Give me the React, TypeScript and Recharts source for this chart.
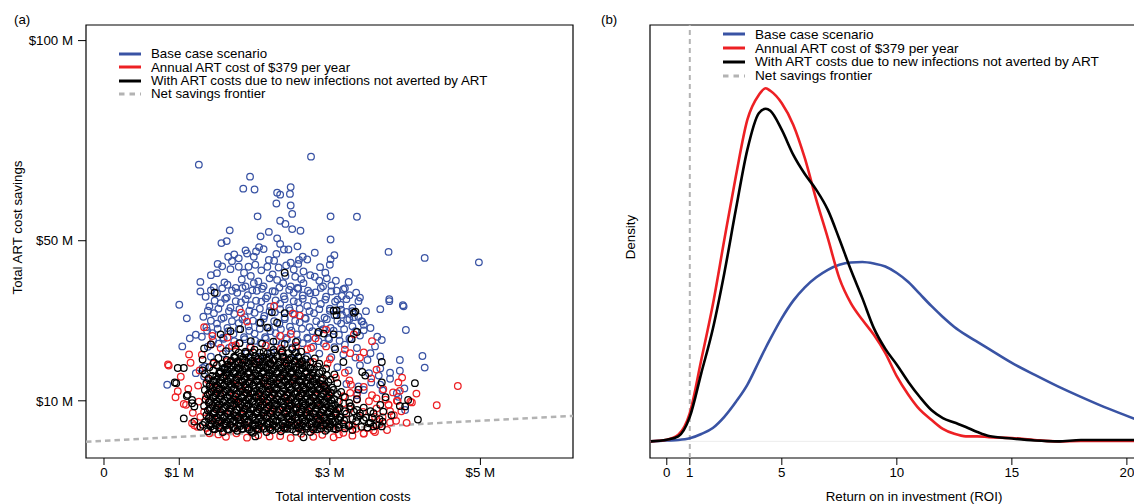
import {
  ScatterChart,
  Scatter,
  LineChart,
  Line,
  XAxis,
  YAxis,
  ReferenceLine,
  ReferenceArea,
  Legend,
} from 'recharts'

const FONT = '"Liberation Sans", Arial, Helvetica, sans-serif'
const BLUE = '#3953a4'
const RED = '#ed2024'
const BLACK = '#000000'
const GRAY = '#b3b3b3'

// panel (a): [total intervention costs ($M), total ART cost savings ($M)]
const BASE_CASE: [number, number][] = [
  [1.26, 69.0], [2.75, 71.0], [1.94, 66.0], [1.85, 63.0], [2.0, 62.8], [2.3, 62.0], [2.34, 61.5], [2.48, 63.4],
  [2.47, 61.7], [2.29, 59.3], [2.48, 58.8], [2.5, 56.7], [2.04, 56.1], [2.34, 55.0], [2.41, 54.2], [2.5, 52.9],
  [2.61, 52.5], [3.01, 56.1], [1.67, 52.6], [2.19, 52.2], [2.08, 51.1], [2.3, 50.6], [3.01, 50.3], [1.56, 49.4],
  [1.63, 49.9], [2.06, 48.4], [1.88, 47.6], [2.02, 47.3], [2.39, 47.8], [2.45, 47.8], [1.65, 46.0], [1.73, 46.6],
  [1.79, 45.6], [2.19, 45.2], [2.64, 46.0], [2.59, 45.2], [3.06, 46.4], [3.01, 45.4], [1.51, 44.2], [1.9, 46.8],
  [1.99, 46.0], [2.29, 46.7], [2.48, 44.5], [1.42, 41.4], [1.5, 41.9], [1.68, 42.9], [1.79, 43.5], [1.92, 43.5],
  [2.01, 44.0], [2.17, 43.5], [2.32, 43.3], [2.54, 41.0], [2.65, 42.3], [2.74, 41.4], [2.8, 41.0], [2.94, 42.0],
  [1.28, 39.7], [1.28, 37.3], [1.64, 39.0], [1.75, 38.2], [1.88, 38.6], [1.99, 39.4], [2.12, 38.6], [2.3, 40.2],
  [2.38, 39.4], [2.48, 38.6], [2.57, 38.2], [2.65, 39.4], [2.74, 36.9], [2.91, 38.6], [3.08, 40.0], [3.16, 36.2],
  [3.25, 39.7], [3.36, 56.0], [3.78, 47.2], [4.26, 45.7], [4.98, 44.6], [3.09, 37.5], [3.35, 37.0], [3.4, 35.8],
  [3.79, 35.4], [3.67, 32.9], [3.79, 34.9], [3.97, 33.9], [3.98, 33.6], [4.01, 27.7], [4.23, 21.2], [4.26, 18.3],
  [3.93, 20.2], [3.93, 17.5], [3.8, 17.0], [3.65, 16.3], [3.67, 18.1], [3.89, 11.9], [3.91, 11.0], [3.16, 31.5],
  [3.23, 30.2], [3.32, 30.9], [3.43, 29.8], [3.45, 29.0], [3.54, 28.2], [3.63, 26.0], [3.69, 25.2], [3.6, 23.6],
  [3.54, 21.9], [3.67, 21.1], [1.0, 34.0], [1.1, 30.6], [1.04, 23.6], [1.14, 25.6], [1.22, 26.5], [0.84, 14.0],
  [1.31, 18.2], [1.22, 16.9], [1.33, 16.1], [3.99, 13.1], [3.36, 11.4], [3.45, 12.7], [4.0, 7.7], [3.67, 14.0],
  [1.46, 38.4], [1.6, 39.6], [1.83, 40.3], [2.05, 39.8], [2.2, 40.6], [2.41, 41.2], [2.62, 40.4], [2.86, 40.0],
  [3.02, 38.8], [3.2, 38.1], [1.35, 36.0], [1.5, 36.9], [1.63, 35.8], [1.77, 37.0], [1.91, 36.4], [2.03, 37.5],
  [2.17, 36.2], [2.27, 37.3], [2.39, 36.1], [2.52, 37.0], [2.64, 36.3], [2.81, 37.1], [2.95, 36.0], [3.1, 35.3],
  [3.26, 36.4], [1.4, 33.6], [1.55, 34.4], [1.68, 33.3], [1.82, 34.6], [1.95, 33.9], [2.09, 34.8], [2.21, 33.5],
  [2.34, 34.3], [2.46, 33.2], [2.58, 34.6], [2.7, 33.7], [2.88, 34.2], [3.0, 33.0], [3.14, 34.0], [3.3, 33.2],
  [3.48, 32.4], [1.32, 31.0], [1.46, 31.9], [1.59, 30.8], [1.73, 31.7], [1.87, 30.9], [2.0, 32.0], [2.13, 31.2],
  [2.27, 32.1], [2.4, 30.8], [2.53, 31.6], [2.67, 30.7], [2.79, 31.9], [2.93, 30.8], [3.06, 31.4], [3.22, 32.2],
  [3.38, 31.0], [1.36, 28.4], [1.5, 29.3], [1.64, 28.2], [1.79, 29.4], [1.92, 28.6], [2.06, 29.5], [2.19, 28.3],
  [2.33, 29.2], [2.47, 28.5], [2.6, 29.6], [2.73, 28.4], [2.88, 29.1], [3.01, 28.2], [3.15, 29.3], [3.3, 28.6],
  [3.45, 27.6], [1.3, 26.0], [1.44, 26.9], [1.58, 25.8], [1.72, 26.7], [1.86, 25.9], [2.0, 26.8], [2.14, 25.9],
  [2.28, 26.9], [2.42, 25.7], [2.56, 26.6], [2.7, 25.8], [2.84, 26.8], [2.98, 25.7], [3.12, 26.5], [3.26, 25.6],
  [3.4, 26.3], [1.38, 23.5], [1.52, 24.3], [1.66, 23.2], [1.8, 24.4], [1.94, 23.6], [2.08, 24.5], [2.22, 23.4],
  [2.36, 24.2], [2.5, 23.3], [2.64, 24.4], [2.78, 23.5], [2.92, 24.3], [3.06, 23.4], [3.2, 24.0], [3.36, 23.2],
  [1.42, 21.0], [1.58, 21.8], [1.74, 20.9], [1.9, 21.9], [2.06, 21.0], [2.22, 22.0], [2.38, 21.1], [2.54, 21.9],
  [2.7, 21.0], [2.86, 21.8], [3.02, 20.9], [3.18, 21.6], [3.34, 20.8], [3.5, 20.2], [1.34, 18.6], [1.6, 17.8],
  [3.1, 18.4], [3.25, 17.6], [3.4, 18.9], [3.52, 16.9], [3.22, 14.2], [3.38, 13.6], [3.55, 14.6], [3.7, 12.6],
  [3.8, 15.5],
  [1.42, 37.6], [1.57, 38.1], [1.7, 37.5], [1.84, 38.2], [1.97, 37.6], [2.1, 38.0], [2.24, 37.4], [2.33, 38.3],
  [2.46, 37.7], [2.58, 38.0], [2.71, 37.5], [2.88, 38.2], [3.02, 37.3], [3.18, 37.9], [1.47, 35.0], [1.61, 35.5],
  [1.75, 34.9], [1.88, 35.4], [2.02, 35.0], [2.15, 35.6], [2.28, 35.1], [2.4, 35.4], [2.52, 34.9], [2.64, 35.5],
  [2.79, 35.0], [2.94, 35.3], [3.07, 34.8], [3.22, 35.4], [3.38, 34.9], [1.38, 32.5], [1.52, 33.0], [1.66, 32.4],
  [1.8, 32.9], [1.93, 32.5], [2.07, 33.0], [2.2, 32.4], [2.34, 32.9], [2.47, 32.6], [2.6, 33.0], [2.73, 32.4],
  [2.86, 32.9], [3.0, 32.5], [3.15, 32.8], [3.3, 32.4], [1.42, 30.0], [1.56, 30.5], [1.7, 29.9], [1.84, 30.4],
  [1.98, 30.0], [2.12, 30.5], [2.26, 29.9], [2.4, 30.4], [2.54, 30.0], [2.68, 30.5], [2.82, 29.9], [2.96, 30.4],
  [3.1, 30.0], [3.26, 30.4], [3.42, 29.9], [1.37, 27.5], [1.51, 28.0], [1.65, 27.4], [1.79, 27.9], [1.93, 27.5],
  [2.07, 28.0], [2.21, 27.4], [2.35, 27.9], [2.49, 27.5], [2.63, 28.0], [2.77, 27.4], [2.91, 27.9], [3.05, 27.5],
  [3.19, 27.9], [3.34, 27.4], [1.45, 25.0], [1.59, 25.5], [1.73, 24.9], [1.87, 25.4], [2.01, 25.0], [2.15, 25.5],
  [2.29, 24.9], [2.43, 25.4], [2.57, 25.0], [2.71, 25.5], [2.85, 24.9], [2.99, 25.4], [3.13, 25.0], [3.28, 25.4],
  [1.7, 44.9], [1.86, 42.0], [2.09, 42.6], [2.26, 45.0], [2.42, 43.8], [2.58, 44.2], [2.7, 45.3], [2.87, 43.4],
  [3.0, 44.0], [1.95, 41.2], [2.24, 41.6], [2.52, 42.8], [2.96, 40.6], [1.57, 43.6], [2.12, 47.9], [2.34, 49.2],
  [2.57, 48.6], [2.8, 47.0],
]

const ART_379: [number, number][] = [
  [1.52, 1.6], [1.76, 1.9], [2.05, 1.4], [2.34, 1.2], [2.62, 1.8], [2.9, 1.5], [3.18, 2.0], [3.45, 1.8], [3.76, 2.7],
  [1.36, 3.2], [1.54, 3.9], [1.71, 3.3], [1.89, 3.8], [2.06, 3.1], [2.24, 3.9], [2.41, 3.4], [2.59, 3.7], [2.76, 3.2],
  [2.94, 3.9], [3.11, 3.3], [3.3, 3.8], [3.5, 3.2], [3.66, 4.1], [1.44, 5.6], [1.8, 5.3], [2.15, 5.8], [2.5, 5.2],
  [2.86, 5.7], [3.22, 5.4], [3.6, 6.0], [3.88, 5.0], [1.33, 7.2], [1.51, 7.9], [1.68, 7.3], [1.86, 7.8], [2.03, 7.1],
  [2.21, 7.7], [2.38, 7.4], [2.56, 7.9], [2.73, 7.2], [2.91, 7.8], [3.08, 7.3], [3.26, 7.9], [3.44, 7.2], [3.62, 8.1],
  [3.8, 7.4], [1.4, 9.6], [1.76, 9.3], [2.12, 9.8], [2.47, 9.2], [2.83, 9.7], [3.18, 9.4], [3.52, 9.9], [3.78, 9.0],
  [3.9, 10.0], [1.36, 11.2], [1.54, 11.9], [1.72, 11.3], [1.9, 11.8], [2.08, 11.1], [2.26, 11.7], [2.44, 11.3],
  [2.62, 11.9], [2.8, 11.2], [2.98, 11.8], [3.18, 11.1], [3.36, 11.9], [3.56, 11.4], [3.71, 12.9], [3.84, 12.1],
  [1.45, 13.4], [1.82, 13.7], [2.18, 13.2], [2.55, 13.8], [2.92, 13.3], [3.27, 12.0], [3.91, 14.6], [1.38, 15.2],
  [1.57, 15.9], [1.76, 15.3], [1.95, 15.8], [2.14, 15.1], [2.33, 15.7], [2.52, 15.3], [2.71, 15.9], [2.9, 15.2],
  [3.08, 15.8], [3.26, 15.1], [1.45, 19.3], [1.64, 19.9], [1.83, 19.2], [2.02, 19.8], [2.21, 19.4], [2.4, 19.9],
  [2.59, 19.2], [2.78, 19.7], [2.97, 19.3], [3.0, 20.4], [1.55, 23.2], [1.75, 23.9], [1.95, 23.3], [2.15, 23.8],
  [2.35, 23.1], [2.55, 23.7], [2.75, 23.2], [2.95, 23.6], [0.85, 19.1], [1.13, 21.6], [1.33, 28.4], [1.44, 26.2],
  [0.95, 10.9], [1.09, 9.0], [1.2, 3.9], [1.82, 32.0], [2.51, 31.8], [2.6, 31.3], [2.26, 33.7], [2.81, 25.6],
  [2.7, 22.9], [1.64, 25.8], [1.42, 24.1], [1.7, 23.7], [2.34, 26.2], [2.48, 26.7], [4.7, 13.7], [4.42, 8.9],
  [3.56, 24.9], [3.45, 22.1], [3.27, 21.9], [3.93, 12.5], [3.74, 10.3], [3.78, 9.0], [4.07, 9.8], [3.45, 1.9],
  [3.89, 10.0], [4.09, 9.6], [3.36, 10.3], [3.18, 11.1], [1.06, 9.2], [1.17, 4.4], [1.24, 3.5], [0.86, 18.8],
  [0.98, 12.4], [1.02, 16.0], [1.9, 29.8], [2.95, 27.8], [3.32, 26.6], [3.62, 17.8], [3.96, 15.8], [4.15, 11.8],
  [1.62, 1.0], [1.9, 0.8], [2.2, 1.1], [2.48, 0.7], [2.78, 1.0], [3.05, 0.9], [3.3, 1.3], [3.6, 2.2], [1.4, 1.9],
  [1.28, 6.0], [1.26, 9.8], [1.25, 13.8], [1.27, 17.6], [1.3, 21.5], [3.2, 17.0], [3.28, 14.0], [3.45, 13.5],
  [3.62, 10.6], [3.85, 6.4], [3.95, 7.4], [4.02, 4.5], [3.7, 5.9], [3.8, 4.6], [3.58, 2.6], [3.35, 3.0], [3.12, 1.6],
  [1.18, 7.0], [1.12, 13.0], [1.15, 19.5], [3.55, 15.6], [3.4, 20.8], [3.2, 22.8],
]

const NOT_AVERTED: [number, number][] = [
  [1.38, 2.4], [1.47, 2.9], [1.58, 2.2], [1.66, 2.8], [1.77, 2.5], [1.85, 3.0], [1.96, 2.3], [2.05, 2.9], [2.16, 2.2],
  [2.24, 2.7], [2.35, 2.4], [2.44, 3.0], [2.55, 2.3], [2.63, 2.8], [2.74, 2.2], [2.83, 2.9], [2.94, 2.5], [3.05, 3.1],
  [3.3, 2.7], [3.5, 3.3], [1.34, 4.6], [1.43, 4.2], [1.52, 4.8], [1.62, 4.3], [1.71, 4.9], [1.81, 4.4], [1.9, 4.7],
  [2.0, 4.1], [2.09, 4.8], [2.19, 4.3], [2.28, 4.9], [2.38, 4.4], [2.47, 4.7], [2.57, 4.2], [2.66, 4.8], [2.76, 4.3],
  [2.85, 4.9], [2.95, 4.4], [3.04, 4.8], [3.18, 4.2], [3.35, 4.9], [3.52, 4.4], [3.7, 4.8], [1.36, 6.4], [1.46, 6.9],
  [1.55, 6.3], [1.65, 6.8], [1.74, 6.2], [1.84, 6.7], [1.93, 6.4], [2.03, 6.9], [2.12, 6.3], [2.22, 6.8], [2.31, 6.2],
  [2.41, 6.7], [2.5, 6.4], [2.6, 6.9], [2.69, 6.2], [2.79, 6.8], [2.88, 6.3], [2.98, 6.9], [3.08, 6.4], [3.22, 6.8],
  [3.4, 6.3], [3.58, 6.9], [3.82, 6.4], [1.33, 8.7], [1.42, 8.2], [1.51, 8.8], [1.61, 8.3], [1.7, 8.9], [1.8, 8.4],
  [1.89, 8.7], [1.99, 8.2], [2.08, 8.8], [2.18, 8.3], [2.27, 8.9], [2.37, 8.4], [2.46, 8.7], [2.56, 8.2], [2.65, 8.8],
  [2.75, 8.3], [2.84, 8.9], [2.94, 8.4], [3.03, 8.7], [3.13, 8.2], [3.28, 8.6], [3.45, 8.3], [1.35, 10.4], [1.45, 10.9],
  [1.54, 10.3], [1.64, 10.8], [1.73, 10.2], [1.83, 10.7], [1.92, 10.4], [2.02, 10.9], [2.11, 10.3], [2.21, 10.8],
  [2.3, 10.2], [2.4, 10.7], [2.49, 10.4], [2.59, 10.9], [2.68, 10.3], [2.78, 10.8], [2.87, 10.2], [2.97, 10.7],
  [3.06, 10.4], [3.2, 10.9], [3.36, 10.4], [1.34, 12.7], [1.43, 12.2], [1.53, 12.8], [1.62, 12.3], [1.72, 12.9],
  [1.81, 12.4], [1.91, 12.7], [2.0, 12.2], [2.1, 12.8], [2.19, 12.3], [2.29, 12.9], [2.38, 12.4], [2.48, 12.7],
  [2.57, 12.2], [2.67, 12.8], [2.76, 12.3], [2.86, 12.9], [2.95, 12.4], [3.05, 12.7], [3.15, 12.2], [1.36, 14.4],
  [1.46, 14.9], [1.55, 14.3], [1.65, 14.8], [1.74, 14.2], [1.84, 14.7], [1.93, 14.4], [2.03, 14.9], [2.12, 14.3],
  [2.22, 14.8], [2.31, 14.2], [2.41, 14.7], [2.5, 14.4], [2.6, 14.9], [2.69, 14.3], [2.79, 14.8], [2.88, 14.2],
  [2.98, 14.7], [3.1, 14.4], [1.34, 16.7], [1.44, 16.2], [1.53, 16.8], [1.63, 16.3], [1.72, 16.9], [1.82, 16.4],
  [1.91, 16.7], [2.01, 16.2], [2.1, 16.8], [2.2, 16.3], [2.29, 16.9], [2.39, 16.4], [2.48, 16.7], [2.58, 16.2],
  [2.67, 16.8], [2.77, 16.3], [2.86, 16.9], [2.96, 16.4], [3.06, 16.6], [1.4, 18.4], [1.5, 18.9], [1.6, 18.3],
  [1.69, 18.8], [1.79, 18.2], [1.88, 18.7], [1.98, 18.4], [2.07, 18.9], [2.17, 18.3], [2.26, 18.8], [2.36, 18.2],
  [2.45, 18.7], [2.55, 18.4], [2.64, 18.9], [2.74, 18.3], [2.84, 18.6], [2.95, 18.1], [1.52, 20.7], [1.63, 20.2],
  [1.74, 20.8], [1.84, 20.3], [1.95, 20.9], [2.05, 20.4], [2.16, 20.7], [2.26, 20.2], [2.37, 20.8], [2.47, 20.3],
  [2.58, 20.9], [2.68, 20.4], [2.8, 20.6], [1.62, 22.4], [1.75, 22.9], [1.88, 22.3], [2.0, 22.8], [2.12, 22.2],
  [2.25, 22.7], [2.37, 22.4], [2.5, 22.9], [2.62, 22.3], [1.8, 24.4], [1.95, 24.9], [2.1, 24.3], [2.25, 24.8],
  [2.4, 24.2], [2.55, 24.7], [0.98, 18.2], [1.06, 18.2], [0.94, 14.6], [1.1, 11.2], [1.17, 10.2], [1.2, 8.6],
  [1.06, 5.6], [1.28, 3.5], [2.65, 0.9], [2.01, 1.1], [1.98, 2.0], [1.47, 37.0], [2.4, 42.0], [2.23, 32.1],
  [2.4, 31.9], [3.09, 32.6], [2.85, 27.2], [2.92, 26.8], [3.05, 26.6], [1.81, 27.9], [2.08, 29.5], [2.17, 28.3],
  [2.3, 29.5], [1.68, 27.4], [1.55, 26.6], [1.33, 23.1], [1.31, 17.6], [3.07, 22.9], [1.42, 24.1], [1.31, 20.3],
  [4.13, 14.4], [4.17, 5.3], [4.04, 10.2], [4.0, 8.6], [3.93, 8.7], [3.69, 19.7], [3.69, 14.6], [3.47, 16.3],
  [3.38, 12.8], [3.32, 32.0], [3.05, 32.5], [3.09, 31.4], [3.36, 27.2], [3.29, 25.4], [3.18, 19.7], [3.43, 17.2],
  [3.56, 5.7], [3.69, 3.6], [3.71, 7.3], [3.67, 9.0], [3.74, 10.9], [3.54, 4.5], [3.58, 3.6], [3.4, 6.9],
  [3.45, 5.2], [3.27, 8.6], [3.32, 7.3], [3.36, 6.0], [3.12, 5.2], [2.99, 4.8], [0.96, 14.4], [1.11, 11.5],
  [1.17, 9.4], [1.2, 4.8], [1.31, 4.0], [3.34, 32.3],
  [1.42, 3.6], [1.53, 3.3], [1.62, 3.8], [1.72, 3.4], [1.81, 3.7], [1.91, 3.3], [2.01, 3.8], [2.1, 3.5], [2.2, 3.3],
  [2.29, 3.7], [2.39, 3.4], [2.49, 3.8], [2.58, 3.3], [2.68, 3.6], [2.78, 3.4], [2.88, 3.8], [2.99, 3.5], [3.12, 3.3],
  [3.25, 3.7], [3.42, 3.5], [3.62, 3.9], [1.39, 5.6], [1.49, 5.3], [1.58, 5.8], [1.68, 5.4], [1.77, 5.7], [1.87, 5.3],
  [1.97, 5.8], [2.06, 5.4], [2.16, 5.6], [2.25, 5.3], [2.35, 5.8], [2.45, 5.4], [2.54, 5.7], [2.64, 5.3], [2.73, 5.8],
  [2.83, 5.4], [2.92, 5.6], [3.02, 5.3], [3.14, 5.8], [3.3, 5.5], [3.48, 5.8], [3.66, 5.4], [1.38, 7.6], [1.47, 7.3],
  [1.57, 7.8], [1.66, 7.4], [1.76, 7.7], [1.85, 7.3], [1.95, 7.8], [2.04, 7.4], [2.14, 7.6], [2.24, 7.3], [2.33, 7.8],
  [2.43, 7.4], [2.52, 7.7], [2.62, 7.3], [2.71, 7.8], [2.81, 7.4], [2.91, 7.6], [3.0, 7.3], [3.1, 7.8], [3.2, 7.4],
  [3.36, 7.7], [3.54, 7.4], [1.39, 9.6], [1.49, 9.3], [1.58, 9.8], [1.68, 9.4], [1.78, 9.7], [1.87, 9.3], [1.97, 9.8],
  [2.06, 9.4], [2.16, 9.6], [2.26, 9.3], [2.35, 9.8], [2.45, 9.4], [2.54, 9.7], [2.64, 9.3], [2.73, 9.8], [2.83, 9.4],
  [2.92, 9.6], [3.02, 9.3], [3.12, 9.8], [3.26, 9.5], [1.38, 11.6], [1.48, 11.3], [1.57, 11.8], [1.67, 11.4],
  [1.76, 11.7], [1.86, 11.3], [1.95, 11.8], [2.05, 11.4], [2.15, 11.6], [2.24, 11.3], [2.34, 11.8], [2.43, 11.4],
  [2.53, 11.7], [2.62, 11.3], [2.72, 11.8], [2.81, 11.4], [2.91, 11.6], [3.0, 11.3], [3.1, 11.7], [1.4, 13.6],
  [1.5, 13.3], [1.59, 13.8], [1.69, 13.4], [1.79, 13.7], [1.88, 13.3], [1.98, 13.8], [2.07, 13.4], [2.17, 13.6],
  [2.27, 13.3], [2.36, 13.8], [2.46, 13.4], [2.55, 13.7], [2.65, 13.3], [2.74, 13.8], [2.84, 13.4], [2.93, 13.6],
  [3.03, 13.3], [1.39, 15.6], [1.49, 15.3], [1.58, 15.8], [1.68, 15.4], [1.77, 15.7], [1.87, 15.3], [1.96, 15.8],
  [2.06, 15.4], [2.15, 15.6], [2.25, 15.3], [2.34, 15.8], [2.44, 15.4], [2.53, 15.7], [2.63, 15.3], [2.72, 15.8],
  [2.82, 15.4], [2.91, 15.6], [3.01, 15.3], [1.45, 17.6], [1.55, 17.3], [1.64, 17.8], [1.74, 17.4], [1.84, 17.7],
  [1.93, 17.3], [2.03, 17.8], [2.12, 17.4], [2.22, 17.6], [2.31, 17.3], [2.41, 17.8], [2.5, 17.4], [2.6, 17.7],
  [2.69, 17.3], [2.79, 17.8], [2.9, 17.4], [1.46, 19.6], [1.57, 19.3], [1.68, 19.8], [1.79, 19.4], [1.9, 19.7],
  [2.0, 19.3], [2.11, 19.8], [2.21, 19.4], [2.32, 19.6], [2.42, 19.3], [2.53, 19.8], [2.63, 19.4], [2.74, 19.7],
  [2.86, 19.3],
  [1.45, 3.0], [1.55, 3.15], [1.64, 2.9], [1.74, 3.1], [1.83, 3.0], [1.93, 2.85], [2.02, 3.1], [2.12, 3.0],
  [2.21, 2.9], [2.31, 3.15], [2.4, 3.0], [2.5, 2.9], [2.59, 3.1], [2.69, 3.0], [2.78, 2.85], [2.88, 3.1],
  [2.97, 3.0], [3.08, 2.9], [3.2, 3.1], [1.4, 4.0], [1.49, 3.9], [1.59, 4.1], [1.68, 4.0], [1.78, 3.85],
  [1.87, 4.1], [1.97, 4.0], [2.06, 3.9], [2.16, 4.15], [2.25, 4.0], [2.35, 3.9], [2.44, 4.1], [2.54, 4.0],
  [2.63, 3.85], [2.73, 4.1], [2.82, 4.0], [2.92, 3.9], [3.01, 4.1], [3.12, 4.0], [3.26, 3.9], [1.44, 5.0],
  [1.54, 5.1], [1.63, 4.9], [1.73, 5.15], [1.82, 5.0], [1.92, 4.9], [2.01, 5.1], [2.11, 5.0], [2.2, 4.85],
  [2.3, 5.1], [2.39, 5.0], [2.49, 4.9], [2.58, 5.15], [2.68, 5.0], [2.77, 4.9], [2.87, 5.1], [2.96, 5.0],
  [3.07, 4.9], [3.19, 5.1], [1.41, 6.0], [1.5, 5.9], [1.6, 6.1], [1.69, 6.0], [1.79, 5.85], [1.88, 6.1],
  [1.98, 6.0], [2.07, 5.9], [2.17, 6.15], [2.26, 6.0], [2.36, 5.9], [2.45, 6.1], [2.55, 6.0], [2.64, 5.85],
  [2.74, 6.1], [2.83, 6.0], [2.93, 5.9], [3.02, 6.1], [3.13, 6.0], [1.45, 7.0], [1.55, 7.15], [1.64, 6.9],
  [1.74, 7.1], [1.83, 7.0], [1.93, 6.85], [2.02, 7.1], [2.12, 7.0], [2.21, 6.9], [2.31, 7.15], [2.4, 7.0],
  [2.5, 6.9], [2.59, 7.1], [2.69, 7.0], [2.78, 6.85], [2.88, 7.1], [2.97, 7.0], [3.08, 6.9], [1.4, 8.0],
  [1.49, 7.9], [1.59, 8.1], [1.68, 8.0], [1.78, 7.85], [1.87, 8.1], [1.97, 8.0], [2.06, 7.9], [2.16, 8.15],
  [2.25, 8.0], [2.35, 7.9], [2.44, 8.1], [2.54, 8.0], [2.63, 7.85], [2.73, 8.1], [2.82, 8.0], [2.92, 7.9],
  [3.01, 8.1], [3.12, 8.0], [1.44, 9.0], [1.54, 9.1], [1.63, 8.9], [1.73, 9.15], [1.82, 9.0], [1.92, 8.9],
  [2.01, 9.1], [2.11, 9.0], [2.2, 8.85], [2.3, 9.1], [2.39, 9.0], [2.49, 8.9], [2.58, 9.15], [2.68, 9.0],
  [2.77, 8.9], [2.87, 9.1], [2.96, 9.0], [3.07, 8.9], [1.41, 10.0], [1.5, 9.9], [1.6, 10.1], [1.69, 10.0],
  [1.79, 9.85], [1.88, 10.1], [1.98, 10.0], [2.07, 9.9], [2.17, 10.15], [2.26, 10.0], [2.36, 9.9], [2.45, 10.1],
  [2.55, 10.0], [2.64, 9.85], [2.74, 10.1], [2.83, 10.0], [2.93, 9.9], [3.02, 10.1], [1.45, 11.0], [1.55, 11.15],
  [1.64, 10.9], [1.74, 11.1], [1.83, 11.0], [1.93, 10.85], [2.02, 11.1], [2.12, 11.0], [2.21, 10.9], [2.31, 11.15],
  [2.4, 11.0], [2.5, 10.9], [2.59, 11.1], [2.69, 11.0], [2.78, 10.85], [2.88, 11.1], [2.97, 11.0], [1.4, 12.0],
  [1.49, 11.9], [1.59, 12.1], [1.68, 12.0], [1.78, 11.85], [1.87, 12.1], [1.97, 12.0], [2.06, 11.9], [2.16, 12.15],
  [2.25, 12.0], [2.35, 11.9], [2.44, 12.1], [2.54, 12.0], [2.63, 11.85], [2.73, 12.1], [2.82, 12.0], [2.92, 11.9],
  [3.01, 12.1], [1.44, 13.0], [1.54, 13.1], [1.63, 12.9], [1.73, 13.15], [1.82, 13.0], [1.92, 12.9], [2.01, 13.1],
  [2.11, 13.0], [2.2, 12.85], [2.3, 13.1], [2.39, 13.0], [2.49, 12.9], [2.58, 13.15], [2.68, 13.0], [2.77, 12.9],
  [2.87, 13.1], [2.96, 13.0], [1.41, 14.0], [1.5, 13.9], [1.6, 14.1], [1.69, 14.0], [1.79, 13.85], [1.88, 14.1],
  [1.98, 14.0], [2.07, 13.9], [2.17, 14.15], [2.26, 14.0], [2.36, 13.9], [2.45, 14.1], [2.55, 14.0], [2.64, 13.85],
  [2.74, 14.1], [2.83, 14.0], [2.93, 13.9], [1.45, 15.0], [1.55, 15.15], [1.64, 14.9], [1.74, 15.1], [1.83, 15.0],
  [1.93, 14.85], [2.02, 15.1], [2.12, 15.0], [2.21, 14.9], [2.31, 15.15], [2.4, 15.0], [2.5, 14.9], [2.59, 15.1],
  [2.69, 15.0], [2.78, 14.85], [2.88, 15.1], [1.49, 16.0], [1.59, 16.1], [1.68, 15.9], [1.78, 16.15], [1.87, 16.0],
  [1.97, 15.9], [2.06, 16.1], [2.16, 16.0], [2.25, 15.85], [2.35, 16.1], [2.44, 16.0], [2.54, 15.9], [2.63, 16.1],
  [2.73, 16.0], [2.82, 15.9], [1.54, 17.0], [1.63, 17.1], [1.73, 16.9], [1.82, 17.15], [1.92, 17.0], [2.01, 16.9],
  [2.11, 17.1], [2.2, 17.0], [2.3, 16.85], [2.39, 17.1], [2.49, 17.0], [2.58, 16.9], [2.68, 17.1], [2.77, 17.0],
  [1.6, 18.0], [1.69, 17.9], [1.79, 18.1], [1.88, 18.0], [1.98, 17.85], [2.07, 18.1], [2.17, 18.0], [2.26, 17.9],
  [2.36, 18.15], [2.45, 18.0], [2.55, 17.9], [2.64, 18.1], [2.74, 18.0], [1.64, 19.0], [1.74, 19.1], [1.83, 18.9],
  [1.93, 19.15], [2.02, 19.0], [2.12, 18.9], [2.21, 19.1], [2.31, 19.0], [2.4, 18.85], [2.5, 19.1], [2.59, 19.0],
  [2.69, 18.9], [1.69, 20.0], [1.78, 19.9], [1.87, 20.1], [1.97, 20.0], [2.06, 19.85], [2.16, 20.1], [2.25, 20.0],
  [2.35, 19.9], [2.44, 20.15], [2.54, 20.0], [2.63, 19.9], [1.73, 21.0], [1.82, 21.1], [1.92, 20.9], [2.01, 21.15],
  [2.11, 21.0], [2.2, 20.9], [2.3, 21.1], [2.39, 21.0], [2.49, 20.85], [2.58, 21.1], [1.79, 22.0], [1.88, 21.9],
  [1.98, 22.1], [2.07, 22.0], [2.17, 21.85], [2.26, 22.1], [2.36, 22.0], [2.45, 21.9], [2.55, 22.1],
]

const COST_MIN = -0.239
const COST_MAX = 6.23
const SAVINGS_MIN = -4.29
const SAVINGS_MAX = 103.9
const COST_TICKS = [0, 1, 3, 5]
const SAVINGS_TICKS = [10, 50, 100]
// net savings frontier: savings = costs
const FRONTIER = [
  { x: COST_MIN, y: COST_MIN },
  { x: COST_MAX, y: COST_MAX },
]

// panel (b): kernel densities of the return on investment
const ROI = [
  -0.7, 0, 0.5, 1, 1.5, 2, 2.5, 3, 3.5, 4, 4.3, 4.5, 5, 5.5, 6, 6.5, 7, 7.5, 8, 8.5, 9, 9.5, 10, 10.5, 11, 11.5, 12,
  12.5, 13, 13.5, 14, 15, 16, 17, 18, 19, 20, 20.6,
]
const DENS_BASE = [
  0, 0.0005, 0.0008, 0.0018, 0.0044, 0.008, 0.0147, 0.0236, 0.0339, 0.0478, 0.0562, 0.0615, 0.074, 0.0845, 0.0925,
  0.0985, 0.103, 0.106, 0.1074, 0.1077, 0.1068, 0.105, 0.1011, 0.0957, 0.0885, 0.0813, 0.0747, 0.0687, 0.0639,
  0.0597, 0.0555, 0.0471, 0.0399, 0.033, 0.0267, 0.0207, 0.0153, 0.012,
]
const DENS_379 = [
  0, 0.001, 0.004, 0.017, 0.049, 0.082, 0.121, 0.159, 0.193, 0.208, 0.212, 0.2105, 0.203, 0.19, 0.17, 0.145, 0.122,
  0.098, 0.083, 0.073, 0.064, 0.053, 0.039, 0.028, 0.019, 0.013, 0.0075, 0.0045, 0.003, 0.003, 0.0025, 0.002, 0.0008,
  0, 0.0002, 0.0002, 0.0002, 0.0002,
]
const DENS_NOT_AVERTED = [
  0, 0.001, 0.003, 0.0147, 0.041, 0.0675, 0.101, 0.139, 0.175, 0.197, 0.1997, 0.1985, 0.187, 0.172, 0.1605, 0.151,
  0.139, 0.1215, 0.103, 0.086, 0.068, 0.0555, 0.046, 0.0357, 0.0266, 0.0188, 0.014, 0.0113, 0.0086, 0.0056, 0.0032,
  0.0017, 0.0005, 0, 0.0008, 0.0008, 0.0008, 0.0008,
]
const ROI_MIN = -0.73
const ROI_MAX = 20.57
const DENS_MIN = -0.01
const DENS_MAX = 0.25
const ROI_TICKS = [0, 1, 5, 10, 15, 20]

const LEGEND_ITEMS = [
  { label: 'Base case scenario', color: BLUE, dashed: false },
  { label: 'Annual ART cost of $379 per year', color: RED, dashed: false },
  { label: 'With ART costs due to new infections not averted by ART', color: BLACK, dashed: false },
  { label: 'Net savings frontier', color: GRAY, dashed: true },
]

const tickStyle = { fill: '#000', fontSize: 13.3, fontFamily: FONT }

function LegendBox({ rowHeight, fontSize }: { rowHeight: number; fontSize: number }) {
  return (
    <div style={{ fontFamily: FONT, fontSize, color: '#000' }}>
      {LEGEND_ITEMS.map((it) => (
        <div
          key={it.label}
          style={{ display: 'flex', alignItems: 'center', height: rowHeight, whiteSpace: 'nowrap' }}
        >
          <svg width={22} height={6} style={{ marginRight: 10, flex: 'none' }}>
            <line
              x1={0}
              y1={3}
              x2={22}
              y2={3}
              stroke={it.color}
              strokeWidth={3}
              strokeDasharray={it.dashed ? '5.5 5' : undefined}
            />
          </svg>
          <span>{it.label}</span>
        </div>
      ))}
    </div>
  )
}

const ring = (color: string) => (props: any) =>
  <circle cx={props.cx} cy={props.cy} r={3.3} fill="none" stroke={color} strokeWidth={1.25} />

const toPoints = (rows: [number, number][]) => rows.map(([x, y]) => ({ x, y }))

function SavingsScatter() {
  return (
    <ScatterChart width={600} height={504} margin={{ top: 25, right: 27, bottom: 6, left: 26 }}>
      <XAxis
        type="number"
        dataKey="x"
        domain={[COST_MIN, COST_MAX]}
        ticks={COST_TICKS}
        allowDataOverflow
        height={40}
        tickSize={7}
        tickMargin={3}
        stroke="#000"
        axisLine={false}
        tick={tickStyle}
        tickFormatter={(v: number) => (v === 0 ? '0' : `$${v} M`)}
        label={{
          content: () => (
            <text x={343} y={501} textAnchor="middle" fontSize={13.3} fontFamily={FONT} fill="#000">
              Total intervention costs
            </text>
          ),
        }}
      />
      <YAxis
        type="number"
        dataKey="y"
        domain={[SAVINGS_MIN, SAVINGS_MAX]}
        ticks={SAVINGS_TICKS}
        allowDataOverflow
        width={60}
        tickSize={8}
        tickMargin={5}
        stroke="#000"
        axisLine={false}
        tick={tickStyle}
        tickFormatter={(v: number) => `$${v} M`}
        label={{
          content: () => (
            <text
              x={17.5}
              y={227.5}
              transform="rotate(-90 17.5 227.5)"
              textAnchor="middle"
              dominantBaseline="central"
              fontSize={13.3}
              fontFamily={FONT}
              fill="#000"
            >
              Total ART cost savings
            </text>
          ),
        }}
      />
      <ReferenceArea
        x1={COST_MIN}
        x2={COST_MAX}
        y1={SAVINGS_MIN}
        y2={SAVINGS_MAX}
        fill="none"
        stroke="#000"
        strokeWidth={1.2}
        fillOpacity={0}
      />
      <Scatter
        name="Base case scenario"
        data={toPoints(BASE_CASE)}
        shape={ring(BLUE)}
        isAnimationActive={false}
      />
      <Scatter
        name="Annual ART cost of $379 per year"
        data={toPoints(ART_379)}
        shape={ring(RED)}
        isAnimationActive={false}
      />
      <Scatter
        name="With ART costs due to new infections not averted by ART"
        data={toPoints(NOT_AVERTED)}
        shape={ring(BLACK)}
        isAnimationActive={false}
      />
      <ReferenceLine segment={FRONTIER} stroke={GRAY} strokeWidth={2.5} strokeDasharray="5.5 4" />
      <Legend
        layout="horizontal"
        verticalAlign="middle"
        align="center"
        wrapperStyle={{ left: 119, top: 47.3, width: 'auto' }}
        content={() => <LegendBox rowHeight={13.3} fontSize={13.3} />}
      />
    </ScatterChart>
  )
}

function RoiDensity() {
  const data = ROI.map((roi, i) => ({
    roi,
    base: DENS_BASE[i],
    art379: DENS_379[i],
    notAverted: DENS_NOT_AVERTED[i],
  }))
  return (
    <LineChart width={580} height={504} data={data} margin={{ top: 25, right: 20, bottom: 6, left: 30 }}>
      <XAxis
        type="number"
        dataKey="roi"
        domain={[ROI_MIN, ROI_MAX]}
        ticks={ROI_TICKS}
        allowDataOverflow
        height={40}
        tickSize={7}
        tickMargin={3}
        stroke="#000"
        axisLine={false}
        tick={tickStyle}
        label={{
          content: () => (
            <text x={334} y={501} textAnchor="middle" fontSize={13.3} fontFamily={FONT} fill="#000">
              Return on in investment (ROI)
            </text>
          ),
        }}
      />
      <YAxis
        type="number"
        domain={[DENS_MIN, DENS_MAX]}
        allowDataOverflow
        width={40}
        tick={false}
        tickLine={false}
        axisLine={false}
        label={{
          content: () => (
            <text
              x={50}
              y={237}
              transform="rotate(-90 50 237)"
              textAnchor="middle"
              dominantBaseline="central"
              fontSize={13.3}
              fontFamily={FONT}
              fill="#000"
            >
              Density
            </text>
          ),
        }}
      />
      <ReferenceArea
        x1={ROI_MIN}
        x2={ROI_MAX}
        y1={DENS_MIN}
        y2={DENS_MAX}
        fill="none"
        stroke="#000"
        strokeWidth={1.2}
        fillOpacity={0}
      />
      <ReferenceLine y={0} stroke="#ececec" strokeWidth={1} />
      <ReferenceLine x={1} stroke={GRAY} strokeWidth={2} strokeDasharray="5 4" />
      <Line
        type="monotone"
        dataKey="base"
        name="Base case scenario"
        stroke={BLUE}
        strokeWidth={2.6}
        dot={false}
        isAnimationActive={false}
      />
      <Line
        type="monotone"
        dataKey="art379"
        name="Annual ART cost of $379 per year"
        stroke={RED}
        strokeWidth={2.6}
        dot={false}
        isAnimationActive={false}
      />
      <Line
        type="monotone"
        dataKey="notAverted"
        name="With ART costs due to new infections not averted by ART"
        stroke={BLACK}
        strokeWidth={2.6}
        dot={false}
        isAnimationActive={false}
      />
      <Legend
        layout="horizontal"
        verticalAlign="middle"
        align="center"
        wrapperStyle={{ left: 143, top: 27.4, width: 'auto' }}
        content={() => <LegendBox rowHeight={13.8} fontSize={13.6} />}
      />
    </LineChart>
  )
}

export default function App() {
  return (
    <div
      style={{
        position: 'absolute',
        left: 0,
        top: 0,
        width: 1134,
        height: 504,
        overflow: 'hidden',
        background: '#fff',
        fontFamily: FONT,
      }}
    >
      <div style={{ position: 'absolute', left: 0, top: 0 }}>
        <SavingsScatter />
      </div>
      <div style={{ position: 'absolute', left: 580, top: 0 }}>
        <RoiDensity />
      </div>
      <div style={{ position: 'absolute', left: 14, top: 13, fontSize: 13.3, lineHeight: '14px' }}>(a)</div>
      <div style={{ position: 'absolute', left: 601, top: 13, fontSize: 13.3, lineHeight: '14px' }}>(b)</div>
    </div>
  )
}
